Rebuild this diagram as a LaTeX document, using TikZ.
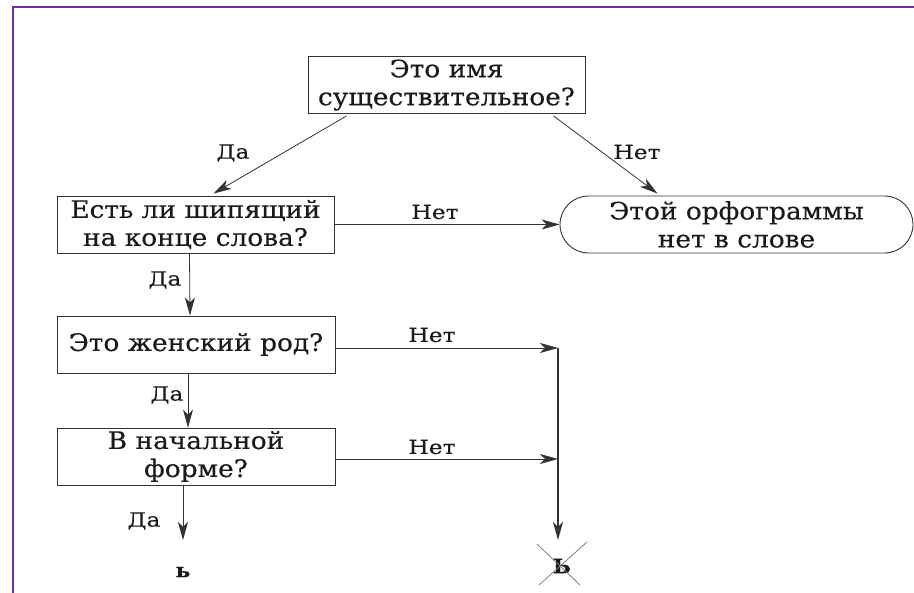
\documentclass[tikz,border=0pt]{standalone}
\usepackage{fontspec}
\setmainfont{DejaVu Serif}
\newfontfamily\boxfont{DejaVu Serif}[FakeStretch=1.1,FakeBold=0.3]
\newfontfamily\lblfont{DejaVu Serif}[FakeStretch=1.2,FakeBold=0.3]
\usetikzlibrary{arrows.meta,shapes.misc}
\definecolor{frame}{HTML}{7030A0}
\definecolor{ink}{HTML}{1A1A1A}
\definecolor{edge}{HTML}{333333}
\begin{document}
\begin{tikzpicture}[x=1pt,y=-1pt,
  box/.style={draw=edge, line width=0.9pt, text=ink, align=center, inner sep=0pt,
    minimum height=57pt, font=\boxfont\fontsize{24}{28}\selectfont},
  term/.style={box, rounded rectangle, minimum width=353pt},
  lbl/.style={text=ink, inner sep=0pt, font=\lblfont\fontsize{19.5}{22}\selectfont},
  arr/.style={draw=edge, line width=0.8pt, -{Stealth[length=18pt,width=10pt,inset=5pt]}},
  cross/.style={draw=gray, line width=0.8pt}]
\useasboundingbox (0,0) rectangle (914,593);
\fill[white] (0,0) rectangle (914,593);
% frame
\draw[frame, line width=2.2pt] (13,593) -- (13,7) -- (914,7);
% nodes
\node[box, minimum width=277pt] (q1) at (446.5,85) {Это имя\\существительное?};
\node[box, minimum width=277pt] (q2) at (195.5,224.5) {Есть ли шипящий\\на конце слова?};
\node[term] (t) at (736.5,224.5) {Этой орфограммы\\нет в слове};
\node[box, minimum width=278pt] (q3) at (196,344.5) {Это женский род?};
\node[box, minimum width=278pt] (q4) at (196,456.5) {В начальной\\форме?};
\node[text=ink, font=\boxfont\fontsize{20}{24}\selectfont\bfseries, inner sep=0pt] (soft) at (183,572) {ь};
\node[text=ink, font=\boxfont\fontsize{20}{24}\selectfont\bfseries, inner sep=0pt] (hard) at (562,566) {Ь};
\coordinate (j1) at (558,348);
\coordinate (j2) at (558,459);
\coordinate (jend) at (558,540);
\coordinate (e1) at (183,540);
% connectors
\draw[arr] ([xshift=-100pt,yshift=-2pt]q1.south) -- ([xshift=18pt,yshift=2pt]q2.north);
\draw[arr] ([xshift=107pt,yshift=-2pt]q1.south) -- ([xshift=-79pt,yshift=2pt]t.north);
\draw[arr] (q2.east) -- (t.west);
\draw[arr] ([xshift=-6pt]q2.south) -- ([xshift=-6pt]q3.north);
\draw[arr] ([xshift=-8pt]q3.south) -- ([xshift=-8pt]q4.north);
\draw[arr] ([yshift=-3.5pt]q3.east) -- (j1);
\draw[arr] ([yshift=-2.5pt]q4.east) -- (j2);
\draw[arr, line width=1.4pt] (j1) -- (jend);
\draw[arr] ([xshift=-13pt]q4.south) -- (e1);
\draw[cross] ([xshift=-25pt,yshift=22pt]hard.center) -- ([xshift=18pt,yshift=-19pt]hard.center);
\draw[cross] ([xshift=25pt,yshift=24pt]hard.center) -- ([xshift=-23pt,yshift=-19pt]hard.center);
% labels
\node[lbl] at (233,153) {Да};
\node[lbl] at (637,152) {Нет};
\node[lbl] at (435,212) {Нет};
\node[lbl] at (165,280) {Да};
\node[lbl] at (432,335) {Нет};
\node[lbl] at (167,395) {Да};
\node[lbl] at (432,447) {Нет};
\node[lbl] at (144,521) {Да};
\end{tikzpicture}
\end{document}
